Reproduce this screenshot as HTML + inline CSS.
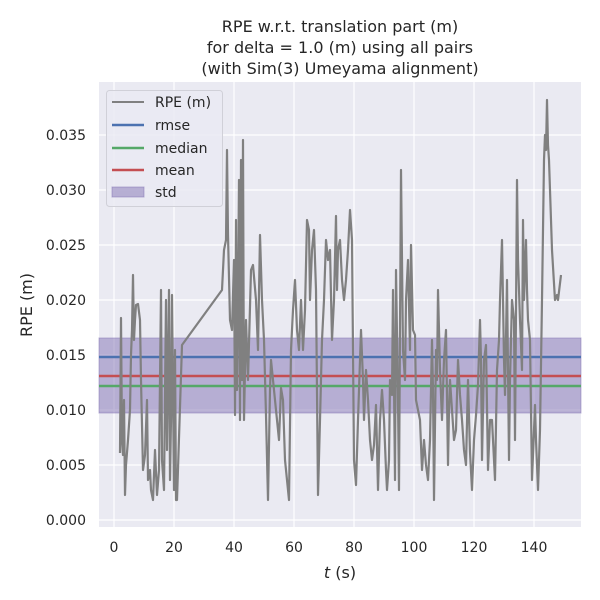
<!DOCTYPE html>
<html><head><meta charset="utf-8"><style>body{margin:0;background:#fff}svg{display:block}text{font-family:"DejaVu Sans","Liberation Sans",sans-serif;fill:#262626}</style></head>
<body>
<svg width="600" height="600" viewBox="0 0 600 600" xmlns="http://www.w3.org/2000/svg">
<rect width="600" height="600" fill="#fff"/>
<rect x="99" y="82" width="482" height="445" fill="#eaeaf2"/>
<g stroke="#fff" stroke-width="1.2">
<line x1="114" y1="82" x2="114" y2="527"/><line x1="174" y1="82" x2="174" y2="527"/><line x1="234" y1="82" x2="234" y2="527"/><line x1="294" y1="82" x2="294" y2="527"/><line x1="354" y1="82" x2="354" y2="527"/><line x1="414" y1="82" x2="414" y2="527"/><line x1="474" y1="82" x2="474" y2="527"/><line x1="534" y1="82" x2="534" y2="527"/>
<line x1="99" y1="520" x2="581" y2="520"/><line x1="99" y1="465" x2="581" y2="465"/><line x1="99" y1="410" x2="581" y2="410"/><line x1="99" y1="355" x2="581" y2="355"/><line x1="99" y1="300" x2="581" y2="300"/><line x1="99" y1="245" x2="581" y2="245"/><line x1="99" y1="190" x2="581" y2="190"/><line x1="99" y1="135" x2="581" y2="135"/>
</g>
<rect x="99" y="338" width="482" height="75" fill="#8172b3" fill-opacity="0.5" stroke="#8172b3" stroke-opacity="0.5"/>
<line x1="99" y1="357" x2="581" y2="357" stroke="#4c72b0" stroke-width="2.5"/>
<line x1="99" y1="376" x2="581" y2="376" stroke="#c44e52" stroke-width="2.5"/>
<line x1="99" y1="386" x2="581" y2="386" stroke="#55a868" stroke-width="2.5"/>
<polyline fill="none" stroke="#808080" stroke-width="2.2" stroke-linejoin="round" points="120,453 121,318 122,440 123,455 124,400 125,495 126,465 128,440 130,410 131,355 132,330 133,275 134,340 135,320 136,305 138,304 140,320 141,380 143,470 145,455 147,400 148,480 150,470 151,490 153,500 155,450 157,495 159,470 161,290 162,460 164,490 166,300 167,450 169,290 170,480 171,420 172,295 174,490 175,350 176,500 177,500 182,345 222,290 224,250 226,240 227,150 228,235 230,320 232,330 234,260 235,415 236,220 237,390 238,300 239,180 240,420 241,160 242,380 243,140 244,420 246,320 248,380 251,270 253,265 256,300 258,350 260,235 262,300 264,340 266,415 268,500 270,390 271,360 273,380 275,400 277,420 279,440 281,388 283,400 285,460 289,500 291,350 293,310 295,280 297,330 299,350 301,300 303,350 305,310 307,220 309,230 310,300 312,250 314,230 316,290 318,495 320,420 322,340 324,300 326,240 328,260 330,250 332,340 334,300 336,216 337,290 338,250 340,240 342,280 344,300 346,280 348,250 350,210 352,240 354,460 356,485 358,420 361,330 363,380 364,420 366,370 368,400 370,440 372,460 374,445 376,405 378,490 380,420 382,390 384,420 386,470 387,490 389,460 390,380 392,395 393,290 395,480 396,270 398,400 399,490 401,170 403,350 405,380 406,300 408,260 410,350 411,245 413,330 415,335 416,400 418,410 420,420 422,470 424,440 426,465 428,480 430,440 432,340 433,390 434,500 436,350 437,380 438,290 440,370 442,420 444,360 446,330 448,465 449,410 450,380 452,410 454,440 456,430 458,360 460,395 462,420 464,450 466,465 468,380 470,452 472,490 474,440 476,415 478,385 480,320 481,360 482,460 484,360 486,345 488,470 490,420 492,420 494,460 495,480 497,370 499,340 500,300 502,240 504,360 505,395 507,280 509,460 510,380 512,300 514,320 515,440 517,180 518,260 520,320 522,370 523,220 524,300 526,240 527,290 528,320 530,340 532,480 534,430 535,405 536,440 538,490 540,430 542,300 544,160 545,135 546,150 547,100 548,145 549,160 552,250 555,300 557,295 558,300 561,275"/>
<g font-size="14" text-anchor="end">
<text x="86" y="525">0.000</text><text x="86" y="470">0.005</text><text x="86" y="415">0.010</text><text x="86" y="360">0.015</text><text x="86" y="305">0.020</text><text x="86" y="250">0.025</text><text x="86" y="195">0.030</text><text x="86" y="140">0.035</text>
</g>
<g font-size="14" text-anchor="middle">
<text x="114" y="552">0</text><text x="174" y="552">20</text><text x="234" y="552">40</text><text x="294" y="552">60</text><text x="354" y="552">80</text><text x="414" y="552">100</text><text x="474" y="552">120</text><text x="534" y="552">140</text>
</g>
<text x="340" y="578" font-size="16" text-anchor="middle"><tspan font-style="italic">t</tspan> (s)</text>
<text transform="translate(32,305) rotate(-90)" font-size="16" text-anchor="middle">RPE (m)</text>
<g font-size="16" text-anchor="middle">
<text x="340" y="32">RPE w.r.t. translation part (m)</text>
<text x="340" y="53">for delta = 1.0 (m) using all pairs</text>
<text x="340" y="74">(with Sim(3) Umeyama alignment)</text>
</g>
<rect x="106.5" y="90.5" width="116" height="116" rx="3" fill="#eaeaf2" fill-opacity="0.8" stroke="#d0d0d8"/>
<line x1="112" y1="102" x2="144" y2="102" stroke="#808080" stroke-width="2"/>
<line x1="112" y1="125" x2="144" y2="125" stroke="#4c72b0" stroke-width="2.5"/>
<line x1="112" y1="148" x2="144" y2="148" stroke="#55a868" stroke-width="2.5"/>
<line x1="112" y1="170" x2="144" y2="170" stroke="#c44e52" stroke-width="2.5"/>
<rect x="112" y="187" width="32" height="10" fill="#8172b3" fill-opacity="0.5" stroke="#8172b3" stroke-opacity="0.5"/>
<g font-size="14">
<text x="155" y="107">RPE (m)</text><text x="155" y="130">rmse</text><text x="155" y="153">median</text><text x="155" y="175">mean</text><text x="155" y="197">std</text>
</g>
</svg>
</body></html>
